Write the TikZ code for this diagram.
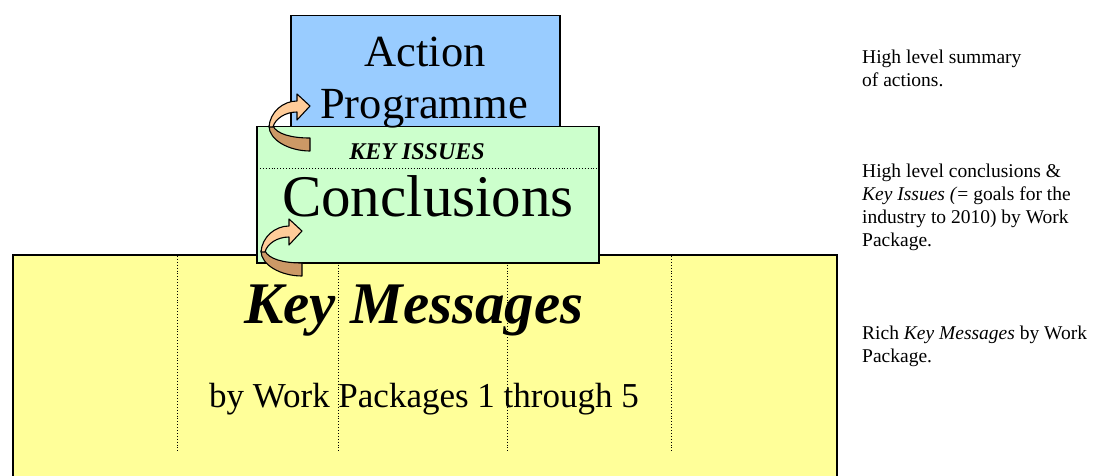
\documentclass[tikz,border=0pt]{standalone}
\usepackage{fontspec}
\setmainfont{Liberation Serif}
\definecolor{actionblue}{HTML}{99CCFF}
\definecolor{concgreen}{HTML}{CCFFCC}
\definecolor{msgyellow}{HTML}{FFFF99}
\definecolor{arrowfront}{HTML}{FFCC99}
\definecolor{arrowback}{HTML}{CC9966}
\tikzset{
  panel/.style={draw=black, line width=1.5pt},
  sep/.style={draw=black, line width=0.9pt, dash pattern=on 0.9pt off 2pt},
  note/.style={anchor=north west, inner sep=0pt, align=left,
    font=\fontsize{19.5}{23}\selectfont},
  ribbon/.style={draw=black, line width=1.1pt, line join=round},
  pics/curlarrow/.style={code={
    % back half of the ribbon
    \path[ribbon, fill=arrowback] (0,0) .. controls (0,14) and (20,25) .. (41,25)
      -- (41,12) .. controls (22,12) and (8,8) .. (4,0) -- cycle;
    % front half with the head
    \path[ribbon, fill=arrowfront] (0,1) .. controls (1,-14) and (14,-25) .. (28,-25)
      -- (28,-32) -- (41,-20) -- (28,-6) -- (28,-14)
      .. controls (16,-14) and (6,-7) .. (4,1) -- cycle;
  }}
}
\begin{document}
\begin{tikzpicture}[x=1pt,y=-1pt]
\useasboundingbox (0,0) rectangle (1097,476);

% Key Messages panel with the work package columns
\path[panel, fill=msgyellow] (13,490) -- (13,255) coordinate (ytl) -- (837,255) coordinate (ytr) -- (837,490);
\foreach \c/\x in {a/177,b/338,c/507,d/671} {
  \coordinate (top\c) at (\x,256);
  \coordinate (bot\c) at (\x,452);
  \draw[sep] (top\c) -- (bot\c);
}

% Action Programme panel
\node[panel, fill=actionblue, anchor=north west, minimum width=269pt, minimum height=120pt, inner sep=0pt] (action) at (290,15) {};

% Conclusions panel
\node[panel, fill=concgreen, anchor=north west, minimum width=342pt, minimum height=136pt, inner sep=0pt] (concl) at (256,126) {};
\coordinate (dl) at (257,168);
\coordinate (dr) at (597,168);
\draw[sep] (dl) -- (dr);

% panel titles
\node[anchor=base, inner sep=0pt, font=\fontsize{44.5}{51}\selectfont] (t1) at (425,67) {Action};
\node[anchor=base, inner sep=0pt, font=\fontsize{44.5}{51}\selectfont] (t2) at (424,118) {Programme};
\node[anchor=base, inner sep=0pt, font=\fontsize{24}{28}\selectfont\bfseries\itshape] (t3) at (417,159) {KEY ISSUES};
\node[anchor=base, inner sep=0pt, font=\fontsize{59}{66}\selectfont] (t4) at (428,216) {Conclusions};
\node[anchor=base, inner sep=0pt, font=\fontsize{59}{66}\selectfont\bfseries\itshape] (t5) at (414,323) {Key Messages};
\node[anchor=base, inner sep=0pt, font=\fontsize{35}{40}\selectfont] (t6) at (424,407) {by Work Packages 1 through 5};

% curled arrows between levels
\pic at (269,126) {curlarrow};
\pic at (261,251) {curlarrow};

% side notes
\node[note] (n1) at (862,49.7) {High level summary\\of actions.};
\node[note] (n2) at (862,163.7) {High level conclusions \&\\\textit{Key Issues (}= goals for the\\industry to 2010) by Work\\Package.};
\node[note] (n3) at (862,325.7) {Rich \textit{Key Messages} by Work\\Package.};
\end{tikzpicture}
\end{document}
